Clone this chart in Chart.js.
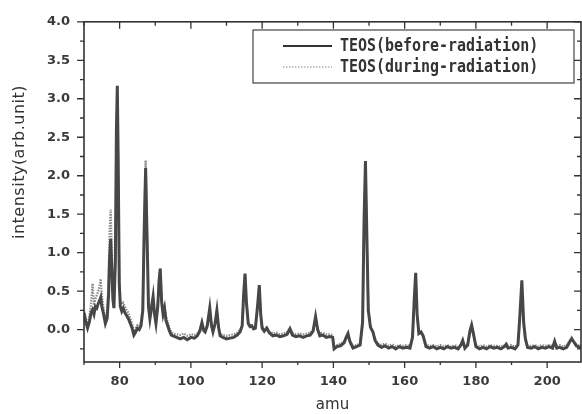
<!DOCTYPE html>
<html>
<head>
<meta charset="utf-8">
<script src="https://cdn.jsdelivr.net/npm/chart.js@4.4.0/dist/chart.umd.min.js"></script>
<style>
  html, body { margin: 0; padding: 0; background: #fff; }
</style>
</head>
<body>
<canvas id="ms-chart" width="582" height="414"></canvas>
<script>
// mass axis (amu)
let amu = [
  70.0, 70.5, 71.0, 71.5, 72.0, 72.4, 72.8, 73.2, 73.6, 74.0, 74.4, 74.7, 75.0, 75.5, 76.0, 76.5,
  76.9, 77.2, 77.5, 77.8, 78.1, 78.4, 78.8, 79.1, 79.35, 79.6, 79.9, 80.2, 80.6, 81.0, 81.5, 82.0,
  82.5, 83.0, 83.5, 84.0, 84.5, 85.0, 85.5, 86.0, 86.5, 86.9, 87.3, 87.7, 88.1, 88.5, 89.0, 89.4,
  89.8, 90.2, 90.7, 91.1, 91.4, 91.8, 92.2, 92.6, 93.0, 93.5, 94.0, 94.5, 95.0, 96.0, 97.0, 98.0,
  99.0, 100.0, 101.0, 101.8, 102.5, 103.1, 103.6, 104.0, 104.6, 105.3, 105.8, 106.2, 106.8, 107.3, 107.8, 108.2,
  109.0, 110.0, 111.0, 112.0, 113.0, 113.8, 114.4, 114.8, 115.2, 115.6, 116.1, 116.6, 117.1, 117.6, 118.1, 118.7,
  119.2, 119.6, 120.0, 120.6, 121.3, 122.0, 123.0, 124.0, 125.0, 126.0, 127.0, 127.8, 128.5, 129.5, 130.5, 131.5,
  132.5, 133.5, 134.3, 135.0, 135.6, 136.2, 137.0, 138.0, 139.0, 139.8, 140.2, 141.0, 142.0, 143.0, 143.6, 144.1,
  144.6, 145.5, 146.5, 147.5, 148.2, 148.6, 149.0, 149.4, 149.8, 150.4, 151.1, 151.7, 152.5, 153.5, 154.5, 155.5,
  156.5, 157.5, 158.5, 159.5, 160.5, 161.5, 162.2, 162.7, 163.1, 163.5, 164.0, 164.6, 165.2, 166.0, 167.0, 168.0,
  169.0, 170.0, 171.0, 172.0, 173.0, 174.0, 175.0, 175.8, 176.3, 176.9, 177.7, 178.3, 178.8, 179.3, 180.0, 181.0,
  182.0, 183.0, 184.0, 185.0, 186.0, 187.0, 188.0, 188.5, 189.0, 190.0, 191.0, 191.8, 192.3, 192.9, 193.4, 193.9,
  194.5, 195.5, 196.5, 197.5, 198.5, 199.5, 200.5, 201.5, 202.1, 202.7, 203.5, 204.5, 205.5, 206.3, 206.9, 207.5,
  208.2, 209.0, 209.5
];

let beforeRad = [
  0.22, 0.10, 0.02, 0.10, 0.22, 0.26, 0.20, 0.30, 0.28, 0.34, 0.38, 0.42, 0.30, 0.20, 0.08, 0.15,
  0.45, 0.95, 1.18, 0.80, 0.40, 0.28, 0.90, 2.60, 3.17, 2.20, 0.60, 0.30, 0.24, 0.28, 0.22, 0.18,
  0.14, 0.08, 0.02, -0.07, -0.03, 0.02, 0.00, 0.05, 0.25, 1.30, 2.10, 1.20, 0.30, 0.14, 0.30, 0.43,
  0.20, 0.08, 0.30, 0.65, 0.79, 0.35, 0.20, 0.28, 0.12, 0.05, -0.02, -0.07, -0.08, -0.10, -0.12, -0.10,
  -0.13, -0.10, -0.11, -0.08, -0.02, 0.09, -0.01, -0.03, 0.05, 0.28, 0.05, -0.03, 0.08, 0.25, 0.02, -0.08,
  -0.10, -0.12, -0.11, -0.10, -0.07, -0.03, 0.05, 0.45, 0.73, 0.35, 0.08, 0.04, 0.05, 0.01, 0.02, 0.30,
  0.58, 0.20, 0.02, -0.02, 0.02, -0.04, -0.08, -0.07, -0.09, -0.08, -0.06, 0.01, -0.07, -0.09, -0.08, -0.10,
  -0.08, -0.07, -0.02, 0.17, 0.00, -0.08, -0.07, -0.10, -0.09, -0.10, -0.25, -0.22, -0.21, -0.17, -0.10, -0.05,
  -0.15, -0.24, -0.22, -0.20, 0.10, 1.40, 2.19, 1.20, 0.25, 0.03, -0.03, -0.14, -0.20, -0.23, -0.21, -0.24,
  -0.22, -0.25, -0.22, -0.24, -0.23, -0.24, -0.10, 0.40, 0.74, 0.20, -0.05, -0.03, -0.08, -0.22, -0.24, -0.22,
  -0.25, -0.23, -0.25, -0.22, -0.24, -0.23, -0.25, -0.20, -0.14, -0.24, -0.20, -0.02, 0.06, -0.05, -0.22, -0.25,
  -0.23, -0.25, -0.22, -0.24, -0.23, -0.25, -0.22, -0.19, -0.24, -0.23, -0.25, -0.20, 0.15, 0.64, 0.10, -0.12,
  -0.23, -0.24, -0.22, -0.25, -0.23, -0.24, -0.22, -0.24, -0.15, -0.24, -0.23, -0.25, -0.23, -0.16, -0.12, -0.16,
  -0.21, -0.23, -0.22
];

let duringRad = [
  0.25, 0.15, 0.05, 0.18, 0.35, 0.60, 0.32, 0.40, 0.45, 0.50, 0.58, 0.66, 0.45, 0.28, 0.12, 0.22,
  0.70, 1.30, 1.56, 1.00, 0.55, 0.35, 0.80, 2.40, 3.00, 2.00, 0.70, 0.38, 0.33, 0.35, 0.30, 0.25,
  0.22, 0.14, 0.08, -0.02, 0.02, 0.06, 0.05, 0.10, 0.30, 1.40, 2.20, 1.30, 0.35, 0.20, 0.35, 0.42,
  0.22, 0.12, 0.35, 0.70, 0.80, 0.40, 0.24, 0.30, 0.18, 0.10, 0.02, -0.03, -0.05, -0.06, -0.07, -0.05,
  -0.08, -0.06, -0.07, -0.05, 0.00, 0.08, 0.00, -0.02, 0.06, 0.26, 0.06, -0.01, 0.10, 0.23, 0.03, -0.05,
  -0.07, -0.08, -0.07, -0.06, -0.04, 0.00, 0.05, 0.42, 0.70, 0.33, 0.09, 0.06, 0.06, 0.03, 0.04, 0.28,
  0.56, 0.20, 0.04, 0.00, 0.03, -0.02, -0.05, -0.04, -0.06, -0.05, -0.03, 0.02, -0.04, -0.06, -0.05, -0.06,
  -0.05, -0.04, 0.00, 0.15, 0.01, -0.05, -0.04, -0.06, -0.06, -0.07, -0.22, -0.20, -0.18, -0.15, -0.09, -0.05,
  -0.14, -0.21, -0.20, -0.18, 0.05, 1.30, 2.05, 1.10, 0.28, 0.06, -0.02, -0.12, -0.18, -0.20, -0.18, -0.21,
  -0.19, -0.22, -0.20, -0.21, -0.20, -0.21, -0.12, 0.35, 0.68, 0.18, -0.06, -0.04, -0.10, -0.20, -0.21, -0.20,
  -0.22, -0.20, -0.22, -0.20, -0.22, -0.20, -0.22, -0.19, -0.15, -0.22, -0.18, -0.05, 0.02, -0.08, -0.20, -0.22,
  -0.20, -0.22, -0.20, -0.21, -0.21, -0.22, -0.20, -0.18, -0.21, -0.20, -0.22, -0.20, 0.10, 0.58, 0.05, -0.13,
  -0.21, -0.21, -0.20, -0.22, -0.20, -0.21, -0.20, -0.21, -0.16, -0.21, -0.20, -0.22, -0.20, -0.14, -0.10, -0.15,
  -0.19, -0.21, -0.20
];

let xTickLabels = [80, 100, 120, 140, 160, 180, 200];
let xTickMarks = [70, 80, 90, 100, 110, 120, 130, 140, 150, 160, 170, 180, 190, 200];
let yTickLabels = [0.0, 0.5, 1.0, 1.5, 2.0, 2.5, 3.0, 3.5, 4.0];
let yTickMarks = [-0.25, 0.0, 0.25, 0.5, 0.75, 1.0, 1.25, 1.5, 1.75, 2.0, 2.25, 2.5, 2.75, 3.0, 3.25, 3.5, 3.75, 4.0];

let toPoints = ys => amu.map((a, i) => ({ x: a, y: ys[i] }));

// box round the plot, with the origin-style ticks on all four sides
let frameTicks = {
  id: 'frameTicks',
  afterDraw(chart) {
    let { ctx, chartArea: a, scales } = chart;
    ctx.save();
    ctx.strokeStyle = '#333';
    ctx.lineWidth = 1.6;
    ctx.strokeRect(a.left, a.top, a.right - a.left, a.bottom - a.top);
    ctx.lineWidth = 1.3;
    ctx.beginPath();
    xTickMarks.forEach(v => {
      let px = scales.x.getPixelForValue(v);
      let major = xTickLabels.includes(v);
      ctx.moveTo(px, a.bottom);
      ctx.lineTo(px, a.bottom + (major ? 6 : 3));
      ctx.moveTo(px, a.top);
      ctx.lineTo(px, a.top + (major ? 7 : 4));
    });
    yTickMarks.forEach(v => {
      let py = scales.y.getPixelForValue(v);
      let major = yTickLabels.includes(v);
      ctx.moveTo(a.left, py);
      ctx.lineTo(a.left - (major ? 7 : 4), py);
      ctx.moveTo(a.right, py);
      ctx.lineTo(a.right - (major ? 7 : 4), py);
    });
    ctx.stroke();

    // y title, sits a bit above the middle like in the scan
    ctx.save();
    ctx.translate(20, 162);
    ctx.rotate(-Math.PI / 2);
    ctx.font = '16px "DejaVu Sans"';
    ctx.letterSpacing = '0.5px';
    ctx.fillStyle = '#333';
    ctx.textAlign = 'center';
    ctx.textBaseline = 'middle';
    ctx.fillText('intensity(arb.unit)', 0, 0);
    ctx.restore();
    ctx.restore();
  }
};

let boxLegend = {
  id: 'boxLegend',
  afterDraw(chart) {
    let ctx = chart.ctx;
    ctx.save();
    ctx.strokeStyle = '#444';
    ctx.lineWidth = 1.2;
    ctx.strokeRect(253, 30, 321, 53);
    chart.data.datasets.forEach((ds, i) => {
      let yy = 46 + i * 21;
      ctx.beginPath();
      ctx.setLineDash(i === 0 ? [] : [1.5, 1.5]);
      ctx.strokeStyle = i === 0 ? '#333' : '#888';
      ctx.lineWidth = i === 0 ? 2 : 1.2;
      ctx.moveTo(283, yy);
      ctx.lineTo(332, yy);
      ctx.stroke();
      ctx.setLineDash([]);
      ctx.save();
      ctx.translate(340, yy);
      ctx.scale(0.88, 1);
      ctx.font = 'bold 17px "DejaVu Sans Mono"';
      ctx.fillStyle = '#333';
      ctx.textBaseline = 'middle';
      ctx.fillText(ds.label, 0, 1);
      ctx.restore();
    });
    ctx.restore();
  }
};

let whiteBg = {
  id: 'whiteBg',
  beforeDraw(chart) {
    let ctx = chart.ctx;
    ctx.save();
    ctx.fillStyle = '#fff';
    ctx.fillRect(0, 0, chart.width, chart.height);
    ctx.restore();
  }
};

new Chart(document.getElementById('ms-chart'), {
  type: 'line',
  data: {
    datasets: [
      {
        label: 'TEOS(before-radiation)',
        data: toPoints(beforeRad),
        borderColor: '#474747',
        borderWidth: 3,
        pointRadius: 0,
        tension: 0
      },
      {
        label: 'TEOS(during-radiation)',
        data: toPoints(duringRad),
        borderColor: '#8c8c8c',
        borderWidth: 2.2,
        borderDash: [1.5, 1.2],
        pointRadius: 0,
        tension: 0
      }
    ]
  },
  options: {
    responsive: false,
    animation: false,
    layout: { padding: { left: 0, top: 15, right: 1, bottom: 0 } },
    plugins: {
      legend: { display: false },
      tooltip: { enabled: false }
    },
    scales: {
      x: {
        type: 'linear',
        min: 70,
        max: 209.5,
        afterBuildTicks: s => { s.ticks = xTickLabels.map(v => ({ value: v })); },
        afterFit: s => { s.height = 52; },
        grid: { display: false, drawTicks: false },
        border: { display: false },
        ticks: {
          padding: 12,
          color: '#3a3a3a',
          font: { family: 'DejaVu Sans', size: 13, weight: 'bold' },
          maxRotation: 0
        },
        title: {
          display: true,
          text: 'amu',
          color: '#333',
          font: { family: 'DejaVu Sans', size: 15 },
          padding: { top: 0, bottom: 0 }
        }
      },
      y: {
        min: -0.42,
        max: 4.0,
        afterBuildTicks: s => { s.ticks = yTickLabels.map(v => ({ value: v })); },
        afterFit: s => { s.width = 84; },
        grid: { display: false, drawTicks: false },
        border: { display: false },
        ticks: {
          padding: 14,
          color: '#3a3a3a',
          font: { family: 'DejaVu Sans', size: 13, weight: 'bold' },
          callback: v => v.toFixed(1)
        }
      }
    }
  },
  plugins: [whiteBg, frameTicks, boxLegend]
});
</script>
</body>
</html>
